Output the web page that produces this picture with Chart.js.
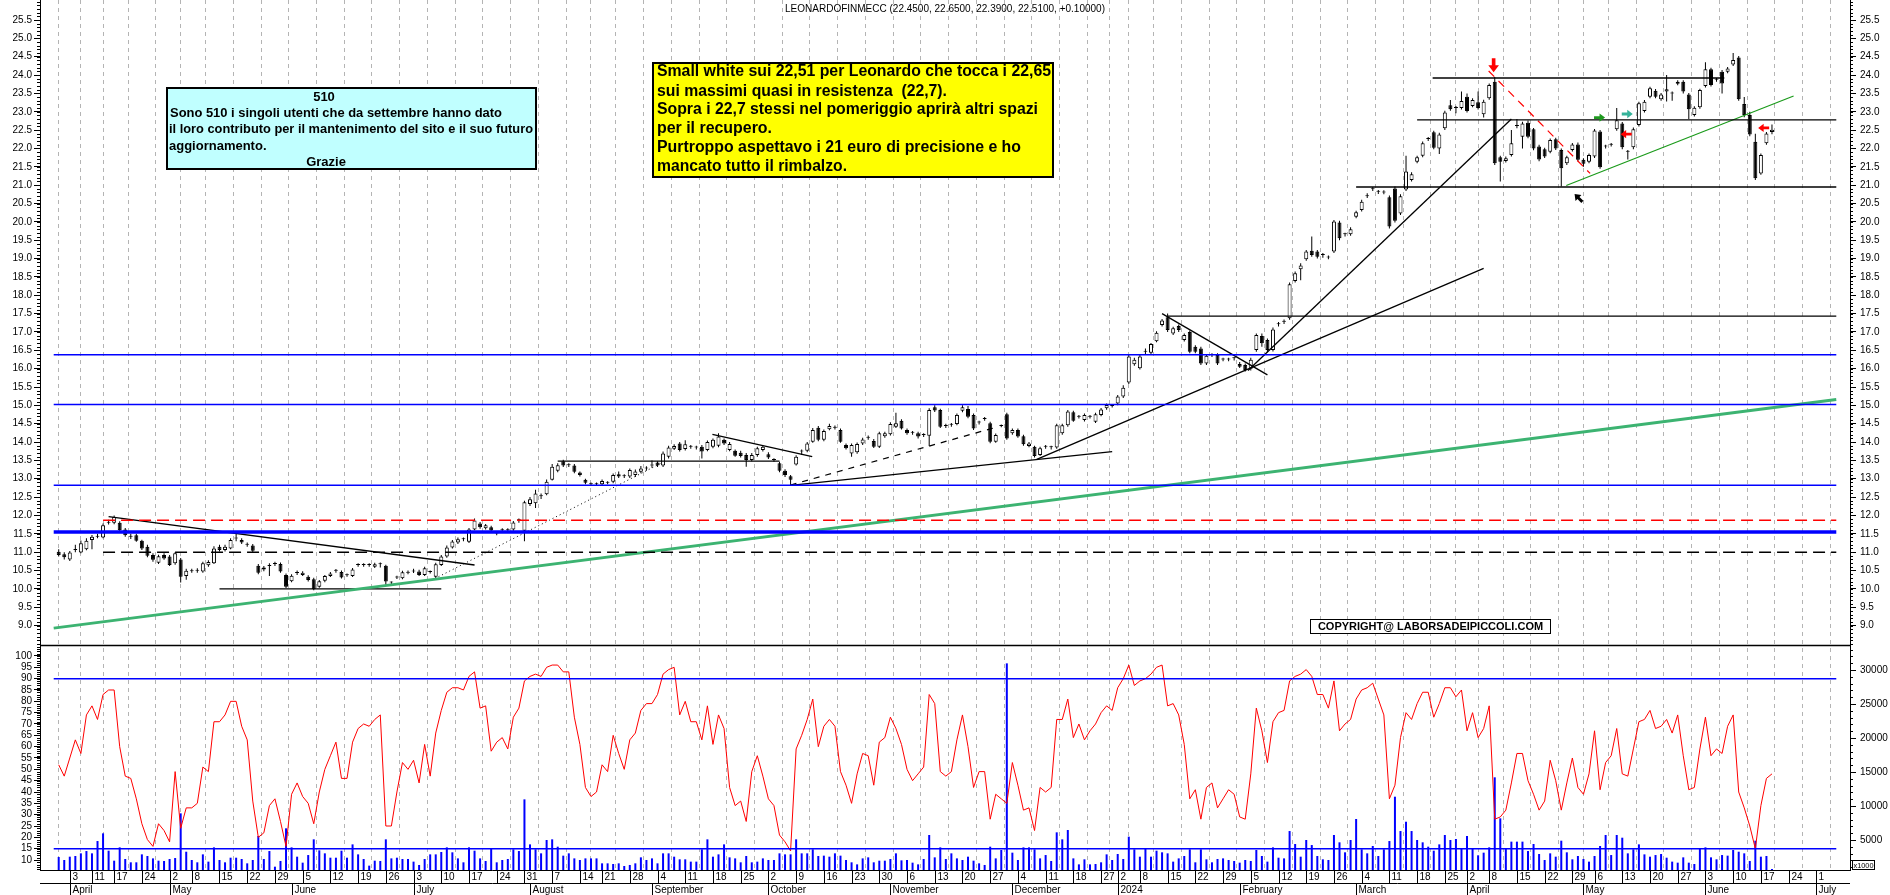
<!DOCTYPE html>
<html>
<head>
    <title>LEONARDOFINMECC</title>
    <script src="https://cdn.jsdelivr.net/npm/chart.js@4.4.1/dist/chart.umd.min.js"></script>
    <style>
        body { margin: 0; background: #ffffff; }
        canvas { display: block; }
    </style>
</head>
<body>
    <canvas id="myChart" width="1890" height="895"></canvas>
    <script>
        // ---- calendar: trading days of Borsa Italiana, 30 Mar 2023 .. early July 2024
        const holidays = ['2023-04-07', '2023-04-10', '2023-05-01', '2023-08-15', '2023-12-25',
            '2023-12-26', '2024-01-01', '2024-03-29', '2024-04-01', '2024-05-01'];
        const monthNames = ['January', 'February', 'March', 'April', 'May', 'June', 'July',
            'August', 'September', 'October', 'November', 'December'];
        const tradingDays = [];
        for (let d = new Date(Date.UTC(2023, 2, 30)); d <= new Date(Date.UTC(2024, 6, 5)); d.setUTCDate(d.getUTCDate() + 1)) {
            const s = d.toISOString().slice(0, 10);
            const wd = d.getUTCDay();
            if (wd === 0 || wd === 6 || holidays.includes(s)) continue;
            tradingDays.push(s);
        }

        // ---- daily candles (index 0 = 30 Mar 2023, last = 19 Jun 2024)
        const open = [
            11.01, 10.94, 10.80, 11.06, 10.99, 11.08, 11.33, 11.42, 11.40, 11.80,
            11.80, 11.80, 11.62, 11.43, 11.46, 11.31, 11.15, 10.92, 10.71, 10.92,
            10.88, 10.70, 10.80, 10.35, 10.48, 10.49, 10.47, 10.64, 10.70, 11.15,
            11.06, 11.10, 11.37, 11.33, 11.21, 11.18, 10.63, 10.53, 10.62, 10.68,
            10.68, 10.38, 10.21, 10.43, 10.38, 10.33, 10.26, 10.06, 10.22, 10.35,
            10.49, 10.46, 10.38, 10.35, 10.65, 10.65, 10.66, 10.60, 10.67, 10.63,
            10.17, 10.31, 10.29, 10.44, 10.47, 10.47, 10.38, 10.46, 10.33, 10.65,
            10.88, 11.13, 11.26, 11.35, 11.28, 11.62, 11.78, 11.65, 11.68, 11.51,
            11.60, 11.60, 11.62, 11.88, 11.58, 12.31, 12.33, 12.53, 12.58, 12.97,
            13.22, 13.48, 13.37, 13.36, 13.17, 12.97, 12.85, 12.85, 12.85, 12.89,
            12.92, 13.12, 13.07, 13.06, 13.10, 13.19, 13.28, 13.36, 13.44, 13.36,
            13.60, 13.82, 13.96, 13.81, 13.87, 13.86, 13.87, 13.78, 13.87, 13.90,
            14.06, 13.78, 13.76, 13.71, 13.65, 13.51, 13.65, 13.78, 13.67, 13.51,
            13.42, 13.22, 13.07, 13.39, 13.74, 13.76, 14.01, 14.39, 14.06, 14.35,
            14.39, 14.33, 13.92, 13.69, 13.72, 13.96, 14.12, 14.03, 13.87, 14.16,
            14.21, 14.42, 14.58, 14.33, 14.25, 14.24, 14.19, 14.17, 14.95, 14.87,
            14.44, 14.47, 14.49, 14.85, 14.90, 14.74, 14.53, 14.63, 14.51, 14.01,
            14.44, 14.76, 14.24, 14.33, 14.16, 13.89, 13.87, 13.65, 13.87, 13.86,
            13.85, 14.24, 14.46, 14.81, 14.69, 14.60, 14.69, 14.55, 14.74, 14.92,
            14.98, 15.05, 15.24, 15.62, 16.12, 16.01, 16.46, 16.43, 16.75, 17.19,
            17.40, 16.96, 17.16, 16.78, 17.00, 16.60, 16.55, 16.14, 16.37, 16.37,
            16.25, 16.25, 16.28, 16.13, 16.10, 16.00, 16.51, 16.89, 16.78, 16.51,
            17.21, 17.28, 17.37, 18.39, 18.71, 18.98, 19.21, 19.19, 19.10, 19.03,
            19.19, 19.98, 19.66, 19.66, 20.14, 20.32, 20.70, 20.89, 20.82, 20.80,
            20.67, 20.91, 20.23, 20.88, 21.14, 21.64, 21.80, 22.26, 22.44, 22.00,
            22.55, 23.18, 23.10, 23.10, 23.41, 23.16, 23.26, 22.93, 23.37, 23.82,
            21.76, 21.66, 21.82, 22.61, 22.32, 22.70, 22.52, 22.05, 21.98, 21.91,
            22.25, 21.96, 21.60, 21.96, 22.11, 21.69, 21.64, 21.78, 22.46, 22.05,
            22.10, 22.52, 22.68, 21.91, 22.03, 22.64, 23.02, 23.41, 23.57, 23.34,
            23.55, 23.50, 23.76, 23.82, 23.47, 22.91, 23.12, 23.70, 24.16, 23.87,
            24.09, 24.09, 24.29, 24.48, 23.21, 22.91, 22.18, 21.32, 22.14, 22.45
        ];
        const high = [
            11.08, 11.00, 11.03, 11.20, 11.32, 11.38, 11.47, 11.50, 11.78, 11.88,
            12.00, 11.84, 11.66, 11.50, 11.50, 11.34, 11.20, 10.97, 10.93, 10.97,
            10.92, 11.00, 10.84, 10.55, 10.55, 10.56, 10.74, 10.78, 11.16, 11.20,
            11.20, 11.38, 11.50, 11.38, 11.26, 11.22, 10.68, 10.62, 10.70, 10.74,
            10.72, 10.42, 10.40, 10.50, 10.48, 10.37, 10.30, 10.24, 10.38, 10.46,
            10.54, 10.50, 10.42, 10.57, 10.70, 10.70, 10.70, 10.71, 10.72, 10.66,
            10.20, 10.36, 10.49, 10.50, 10.55, 10.52, 10.60, 10.50, 10.71, 10.92,
            11.18, 11.33, 11.40, 11.40, 11.66, 11.92, 11.82, 11.77, 11.72, 11.56,
            11.65, 11.65, 11.85, 11.92, 12.40, 12.50, 12.70, 12.60, 12.98, 13.40,
            13.42, 13.52, 13.42, 13.40, 13.20, 13.00, 12.90, 12.90, 12.98, 12.93,
            13.14, 13.20, 13.12, 13.28, 13.25, 13.35, 13.34, 13.50, 13.48, 13.74,
            13.90, 13.94, 14.00, 14.05, 13.92, 13.90, 13.92, 14.04, 14.10, 14.24,
            14.10, 14.00, 13.80, 13.76, 13.70, 13.70, 13.87, 13.90, 13.72, 13.56,
            13.46, 13.26, 13.10, 13.64, 13.80, 14.00, 14.38, 14.44, 14.34, 14.50,
            14.45, 14.37, 13.96, 13.96, 13.99, 14.12, 14.18, 14.08, 14.28, 14.28,
            14.54, 14.80, 14.62, 14.37, 14.30, 14.28, 14.24, 14.92, 15.00, 14.91,
            14.50, 14.52, 14.78, 15.00, 14.98, 14.78, 14.58, 14.68, 14.55, 14.23,
            14.48, 14.80, 14.37, 14.37, 14.20, 14.00, 13.90, 13.87, 13.92, 13.90,
            14.50, 14.50, 14.87, 14.85, 14.74, 14.78, 14.74, 14.80, 14.93, 15.05,
            15.03, 15.28, 15.55, 16.40, 16.30, 16.37, 16.55, 16.70, 17.02, 17.35,
            17.50, 17.14, 17.20, 16.96, 17.04, 16.64, 16.60, 16.40, 16.42, 16.42,
            16.30, 16.30, 16.32, 16.18, 16.14, 16.30, 16.96, 16.96, 16.82, 17.12,
            17.27, 17.34, 18.35, 18.65, 18.87, 19.23, 19.60, 19.23, 19.15, 19.08,
            20.05, 20.03, 19.70, 19.85, 20.30, 20.60, 20.78, 20.95, 20.87, 20.86,
            20.72, 20.96, 20.75, 21.80, 21.35, 21.80, 22.19, 22.31, 22.48, 22.43,
            23.03, 23.32, 23.16, 23.55, 23.50, 23.37, 23.55, 23.33, 23.77, 23.95,
            21.80, 21.78, 22.50, 22.80, 22.73, 22.76, 22.56, 22.10, 22.02, 22.27,
            22.29, 22.00, 21.80, 22.15, 22.16, 21.73, 21.86, 22.53, 22.50, 22.10,
            22.15, 23.10, 22.72, 21.96, 22.57, 23.27, 23.32, 23.68, 23.62, 23.51,
            24.00, 23.55, 23.86, 23.86, 23.51, 23.15, 23.63, 24.35, 24.20, 23.92,
            24.14, 24.22, 24.60, 24.52, 23.40, 23.00, 22.40, 21.86, 22.45, 22.65
        ];
        const low = [
            10.88, 10.80, 10.76, 11.00, 10.97, 11.05, 11.08, 11.38, 11.38, 11.75,
            11.76, 11.55, 11.42, 11.36, 11.28, 11.06, 10.86, 10.74, 10.68, 10.79,
            10.62, 10.66, 10.17, 10.25, 10.44, 10.44, 10.44, 10.60, 10.68, 11.02,
            11.02, 11.08, 11.30, 11.22, 11.15, 11.00, 10.40, 10.48, 10.35, 10.62,
            10.44, 10.02, 10.18, 10.38, 10.35, 10.20, 9.96, 10.03, 10.18, 10.32,
            10.44, 10.28, 10.33, 10.32, 10.60, 10.60, 10.60, 10.57, 10.58, 10.10,
            10.12, 10.27, 10.26, 10.40, 10.43, 10.35, 10.35, 10.42, 10.28, 10.62,
            10.85, 11.10, 11.22, 11.30, 11.25, 11.60, 11.64, 11.62, 11.55, 11.46,
            11.55, 11.55, 11.58, 11.80, 11.30, 12.26, 12.20, 12.45, 12.55, 12.95,
            13.18, 13.32, 13.32, 13.15, 13.06, 12.85, 12.80, 12.80, 12.82, 12.85,
            12.88, 13.02, 13.02, 13.02, 13.05, 13.15, 13.22, 13.30, 13.32, 13.32,
            13.55, 13.78, 13.74, 13.77, 13.82, 13.80, 13.55, 13.75, 13.83, 13.86,
            13.92, 13.75, 13.60, 13.58, 13.33, 13.48, 13.60, 13.74, 13.54, 13.46,
            13.18, 13.05, 12.82, 13.36, 13.65, 13.72, 13.98, 14.02, 14.02, 14.32,
            14.34, 13.98, 13.80, 13.60, 13.68, 13.92, 14.06, 13.84, 13.84, 14.12,
            14.18, 14.38, 14.34, 14.20, 14.20, 14.10, 14.14, 13.89, 14.82, 14.38,
            14.38, 14.42, 14.46, 14.81, 14.65, 14.33, 14.48, 14.58, 13.97, 13.98,
            14.40, 14.06, 14.20, 14.12, 13.90, 13.86, 13.58, 13.62, 13.82, 13.80,
            13.82, 14.20, 14.42, 14.55, 14.64, 14.56, 14.64, 14.52, 14.70, 14.88,
            14.94, 15.00, 15.20, 15.58, 16.08, 15.98, 16.40, 16.40, 16.72, 17.15,
            17.00, 16.92, 17.00, 16.74, 16.42, 16.42, 16.10, 16.10, 16.32, 16.10,
            16.20, 16.20, 16.22, 16.02, 15.92, 15.95, 16.46, 16.60, 16.45, 16.47,
            17.15, 17.22, 17.33, 18.35, 18.41, 18.94, 19.05, 19.00, 19.02, 18.98,
            19.15, 19.50, 19.60, 19.62, 20.10, 20.28, 20.65, 20.84, 20.76, 20.75,
            19.82, 19.98, 20.19, 20.84, 21.10, 21.60, 21.76, 22.20, 21.98, 21.85,
            22.50, 23.03, 22.96, 23.06, 22.98, 23.12, 23.06, 22.84, 23.33, 21.55,
            21.10, 21.62, 21.78, 22.55, 22.00, 22.28, 21.95, 21.65, 21.74, 21.87,
            21.96, 20.96, 21.55, 21.92, 21.65, 21.50, 21.60, 21.74, 21.45, 22.00,
            22.05, 22.48, 21.98, 21.70, 21.98, 22.60, 22.98, 23.37, 23.37, 23.30,
            23.28, 23.30, 23.72, 23.50, 22.80, 22.87, 23.08, 23.66, 23.69, 23.82,
            23.50, 24.05, 24.25, 23.30, 22.85, 22.33, 21.14, 21.28, 22.10, 22.39
        ];
        const close = [
            10.92, 10.86, 10.99, 11.08, 11.24, 11.31, 11.42, 11.45, 11.73, 11.82,
            11.96, 11.60, 11.46, 11.42, 11.31, 11.10, 10.90, 10.79, 10.89, 10.83,
            10.65, 10.97, 10.33, 10.49, 10.50, 10.50, 10.70, 10.73, 11.10, 11.06,
            11.15, 11.33, 11.38, 11.26, 11.20, 11.04, 10.44, 10.58, 10.63, 10.69,
            10.47, 10.06, 10.36, 10.44, 10.44, 10.24, 9.99, 10.21, 10.35, 10.42,
            10.50, 10.31, 10.37, 10.53, 10.66, 10.66, 10.65, 10.67, 10.68, 10.20,
            10.17, 10.32, 10.45, 10.45, 10.47, 10.38, 10.56, 10.46, 10.67, 10.88,
            11.13, 11.29, 11.35, 11.35, 11.62, 11.86, 11.68, 11.73, 11.59, 11.51,
            11.60, 11.61, 11.81, 11.87, 12.36, 12.44, 12.60, 12.52, 12.92, 13.33,
            13.37, 13.36, 13.37, 13.19, 13.10, 12.89, 12.85, 12.85, 12.94, 12.89,
            13.10, 13.06, 13.07, 13.24, 13.20, 13.28, 13.29, 13.36, 13.36, 13.69,
            13.85, 13.89, 13.78, 13.94, 13.87, 13.85, 13.74, 14.00, 14.06, 14.15,
            13.96, 13.95, 13.63, 13.62, 13.51, 13.65, 13.83, 13.87, 13.58, 13.51,
            13.22, 13.10, 12.97, 13.60, 13.74, 13.96, 14.33, 14.06, 14.30, 14.44,
            14.39, 14.01, 13.83, 13.92, 13.95, 14.07, 14.12, 13.87, 14.24, 14.24,
            14.49, 14.51, 14.37, 14.24, 14.25, 14.15, 14.19, 14.87, 14.86, 14.42,
            14.44, 14.47, 14.74, 14.95, 14.69, 14.37, 14.53, 14.63, 14.01, 14.19,
            14.44, 14.10, 14.33, 14.15, 13.94, 13.96, 13.62, 13.83, 13.87, 13.86,
            14.46, 14.46, 14.83, 14.58, 14.69, 14.74, 14.69, 14.76, 14.89, 15.01,
            14.98, 15.24, 15.48, 16.33, 16.24, 16.33, 16.46, 16.67, 16.98, 17.31,
            17.05, 17.10, 17.05, 16.92, 16.46, 16.46, 16.14, 16.35, 16.37, 16.14,
            16.25, 16.25, 16.28, 16.05, 15.96, 16.24, 16.92, 16.69, 16.51, 17.07,
            17.21, 17.28, 18.30, 18.60, 18.81, 19.19, 19.10, 19.05, 19.10, 19.03,
            20.01, 19.55, 19.66, 19.80, 20.26, 20.55, 20.70, 20.89, 20.82, 20.80,
            19.87, 20.03, 20.70, 21.37, 21.30, 21.76, 22.14, 22.26, 22.02, 22.38,
            22.98, 23.07, 23.10, 23.29, 23.02, 23.32, 23.10, 23.27, 23.73, 21.60,
            21.64, 21.73, 22.14, 22.61, 22.68, 22.32, 22.00, 21.70, 21.78, 22.23,
            22.00, 21.46, 21.76, 22.11, 21.69, 21.58, 21.82, 22.49, 21.49, 22.05,
            22.10, 22.77, 22.03, 21.91, 22.52, 23.23, 23.27, 23.64, 23.41, 23.47,
            23.61, 23.50, 23.82, 23.55, 23.07, 23.11, 23.59, 24.16, 23.73, 23.87,
            23.77, 24.18, 24.41, 23.34, 22.91, 22.38, 21.19, 21.82, 22.41, 22.51
        ];

        // ---- oscillator (left lower scale) and volume in thousands (right lower scale)
        const stoch = [
            52, 47, 55, 63, 57, 74, 78, 72, 83, 85,
            85, 60, 47, 46, 37, 26, 19, 16, 26, 23,
            18, 49, 24, 33, 33, 35, 51, 49, 71, 71,
            74, 80, 80, 69, 63, 36, 20, 22, 34, 37,
            27, 16, 39, 44, 38, 35, 26, 40, 50, 56,
            62, 46, 46, 62, 68, 70, 69, 72, 74, 25,
            25, 40, 53, 50, 54, 44, 61, 47, 66, 76,
            84, 86, 86, 85, 91, 93, 77, 78, 58, 62,
            64, 59, 73, 77, 89, 91, 92, 91, 95, 96,
            96, 93, 93, 73, 61, 42, 38, 40, 52, 49,
            65, 57, 50, 63, 66, 76, 79, 79, 83, 92,
            94, 95, 74, 80, 71, 71, 63, 78, 61, 74,
            68, 42, 34, 36, 27, 49, 56, 47, 37, 34,
            21, 18, 14, 59, 65, 72, 81, 60, 69, 72,
            69, 49, 43, 35, 48, 57, 56, 43, 62, 64,
            73, 68, 61, 50, 45, 48, 51, 83, 79, 49,
            47, 49, 63, 74, 60, 42, 49, 49, 28, 39,
            37, 35, 53, 43, 32, 33, 23, 42, 40, 42,
            72, 72, 81, 64, 70, 63, 67, 70, 75, 78,
            76, 86, 90, 96, 87, 89, 90, 92, 95, 96,
            78, 79, 74, 61, 37, 41, 28, 42, 44, 33,
            37, 41, 39, 29, 28, 48, 77, 67, 53, 71,
            75, 76, 89, 91, 92, 94, 91, 83, 83, 77,
            89, 67, 70, 72, 81, 85, 86, 88, 81, 74,
            37, 43, 64, 75, 72, 79, 84, 84, 73, 79,
            86, 86, 82, 85, 67, 75, 64, 68, 78, 28,
            29, 32, 44, 57, 57, 45, 39, 32, 36, 54,
            45, 32, 44, 55, 42, 39, 48, 67, 41, 53,
            56, 68, 48, 47, 59, 71, 72, 76, 68, 69,
            72, 66, 74, 56, 41, 42, 59, 73, 56, 59,
            57, 69, 74, 40, 33, 25, 15, 34, 46, 48
        ];
        const volume = [
            2500, 2060, 2550, 2650, 3040, 3380, 3040, 4850, 5980, 3430,
            1960, 3920, 2210, 1720, 1720, 2890, 2650, 2300, 1960, 1910,
            2210, 2350, 8920, 3280, 2060, 1720, 2890, 1820, 3920, 2060,
            1720, 2400, 2400, 2210, 1570, 2060, 5590, 2210, 3380, 1080,
            1910, 6720, 3920, 2550, 1670, 2790, 5100, 3480, 3040, 2400,
            2400, 3430, 2400, 4360, 2890, 2210, 1230, 1960, 1910, 5100,
            2300, 2400, 2210, 2210, 1820, 1330, 2210, 2890, 2890, 3240,
            3920, 3190, 2300, 1720, 3920, 3430, 2300, 1910, 3680, 1720,
            2060, 2210, 3630, 3380, 10980, 4360, 3630, 3040, 5000, 5100,
            4020, 2700, 3040, 2300, 2060, 2300, 2300, 2300, 1570, 1570,
            1470, 1570, 1180, 1330, 1570, 2450, 2060, 2300, 1570, 3040,
            3040, 2550, 2160, 2160, 1820, 1820, 3630, 5100, 2550, 2890,
            4360, 2450, 2300, 1720, 2650, 1720, 1820, 2300, 2060, 2060,
            3040, 2890, 2890, 5100, 3040, 3040, 3630, 2650, 2700, 2550,
            3040, 2700, 2060, 1720, 1420, 2300, 2450, 1720, 1960, 1960,
            2210, 3040, 2010, 2060, 1670, 1420, 2210, 5740, 2450, 3920,
            2210, 3040, 2300, 2060, 2550, 1960, 1570, 1330, 4020, 2300,
            3530, 30980, 3140, 2060, 3920, 3920, 3630, 2300, 2790, 1910,
            6130, 5100, 6470, 2300, 1420, 2160, 1420, 1470, 1720, 2890,
            2060, 2940, 2210, 5490, 3630, 2550, 3680, 2550, 3430, 3190,
            3040, 1820, 2300, 2650, 3630, 1720, 3630, 2160, 1720, 2210,
            2300, 2060, 1910, 1670, 2060, 1910, 3530, 2650, 1820, 3920,
            2400, 2300, 6320, 4410, 2550, 5000, 4260, 2650, 2160, 2060,
            5740, 4660, 3190, 5000, 8090, 3630, 3040, 4120, 2650, 3630,
            4850, 11370, 6320, 7690, 6320, 5000, 4660, 4020, 3430, 4360,
            5740, 5000, 5150, 3680, 5590, 3680, 2750, 3140, 3920, 14220,
            8190, 3680, 4760, 4760, 4760, 3380, 4410, 2940, 2060, 3040,
            2550, 4900, 3190, 2160, 2650, 2210, 1820, 2650, 4120, 5740,
            2790, 5740, 5340, 3040, 3630, 4360, 2890, 2550, 2790, 2940,
            2400, 1820, 1670, 2450, 1670, 1470, 3680, 3920, 2450, 2160,
            2790, 2700, 3530, 3280, 3040, 1910, 4900, 2550, 2650, 740
        ];

        // ---- tick labels
        const priceTicks = Array.from({ length: 34 }, (_, k) => 9 + k * 0.5);
        const stochTicks = Array.from({ length: 19 }, (_, k) => 10 + k * 5);
        const volumeTicks = [5000, 10000, 15000, 20000, 25000, 30000];

        // ---- drawn studies, in (trading day index, price)
        const X_MIN = -0.9, X_MAX = 320.6;
        const blueLevels = [16.38, 15.02, 12.82];
        const blueThickLevel = 11.55;
        const redDashLevel = 11.87;
        const blackDashLevel = 11.0;
        const stochLevels = [90, 15];
        const longGreenLine = [X_MIN, 8.93, X_MAX, 15.16];
        const blackLines = [
            [9, 11.97, 75, 10.65],
            [29, 10.0, 69, 10.0],
            [90, 13.48, 130, 13.48],
            [117.9, 14.21, 135.9, 13.6],
            [132, 12.82, 190, 13.74],
            [176.4, 13.53, 257, 18.73],
            [199, 17.5, 218, 15.83],
            [214.5, 15.95, 262, 22.8],
            [200, 17.43, X_MAX, 17.43],
            [234, 20.95, X_MAX, 20.95],
            [245, 22.78, X_MAX, 22.78],
            [247.8, 23.92, 300.4, 23.92]
        ];
        const dottedLine = [68.5, 10.33, 109, 13.45];
        const dashedLine = [132, 12.83, 169, 14.4];
        const redTrendLine = [257.9, 24.11, 276.2, 21.32];
        const greenTrendLine = [271.9, 20.99, 312.9, 23.43];
        // arrows: [day, price, direction, colour]
        const arrows = [
            [258.8, 24.27, 'down', '#ff0000'],
            [277.9, 22.84, 'right', '#1f9a1f'],
            [282.9, 22.94, 'right', '#35b39a'],
            [282.7, 22.39, 'left', '#ff0000'],
            [307.5, 22.56, 'left', '#ff0000'],
            [274.1, 20.65, 'nw', '#000000']
        ];

        const FONT = 'Liberation Sans, Arial, sans-serif';
        const seg = (a) => [{ x: a[0], y: a[1] }, { x: a[2], y: a[3] }];
        const level = (v, from) => seg([from === undefined ? X_MIN : from, v, X_MAX, v]);

        function lineSet(data, color, width, dash, axis) {
            return {
                type: 'line', data: data, yAxisID: axis || 'yP', borderColor: color,
                borderWidth: width, borderDash: dash || [], pointRadius: 0, order: 1
            };
        }

        const datasets = [];
        blueLevels.forEach(v => datasets.push(lineSet(level(v), '#0000ff', 1.5)));
        datasets.push(lineSet(level(blueThickLevel), '#0000ff', 3.5));
        datasets.push(lineSet(level(redDashLevel, 8), '#ff0000', 1.5, [12, 6]));
        datasets.push(lineSet(level(blackDashLevel, 8), '#000000', 1.5, [12, 6]));
        datasets.push(lineSet(seg(longGreenLine), '#3cb371', 3));
        blackLines.forEach(l => datasets.push(lineSet(seg(l), '#000000', 1.3)));
        datasets.push(lineSet(seg(dottedLine), '#000000', 1, [1, 3]));
        datasets.push(lineSet(seg(dashedLine), '#000000', 1.2, [6, 6]));
        datasets.push(lineSet(seg(redTrendLine), '#ff0000', 1.2, [8, 6]));
        datasets.push(lineSet(seg(greenTrendLine), '#1a9a1a', 1.2));
        stochLevels.forEach(v => datasets.push(lineSet(level(v), '#0000ff', 1.5, [], 'yS')));

        datasets.push({
            type: 'bar', yAxisID: 'yP', order: 3, grouped: false, maxBarThickness: 1,
            data: low.map((l, j) => ({ x: j, y: [l, high[j]] })),
            backgroundColor: '#000000'
        });
        datasets.push({
            type: 'bar', yAxisID: 'yP', order: 2, grouped: false, maxBarThickness: 5,
            minBarLength: 1, borderSkipped: false, borderWidth: 1, borderColor: '#000000',
            data: open.map((o, j) => ({ x: j, y: [o, close[j]] })),
            backgroundColor: (c) => close[c.dataIndex] >= open[c.dataIndex] ? '#ffffff' : '#000000'
        });
        datasets.push({
            type: 'bar', yAxisID: 'yV', order: 3, grouped: false, maxBarThickness: 2,
            data: volume.map((v, j) => ({ x: j, y: v })),
            backgroundColor: '#0000ff'
        });
        datasets.push({
            type: 'line', yAxisID: 'yS', order: 2, borderColor: '#ff0000', borderWidth: 1,
            pointRadius: 0, data: stoch.map((v, j) => ({ x: j, y: v }))
        });

        // week starts and month starts for the time axis
        const weekStarts = [], monthStarts = [];
        tradingDays.forEach((s, j) => {
            if (j === 0) return;
            const d = new Date(s + 'T00:00:00Z'), p = new Date(tradingDays[j - 1] + 'T00:00:00Z');
            if (d.getUTCDay() < p.getUTCDay() || (d - p) > 6 * 86400000) weekStarts.push(j);
            if (d.getUTCMonth() !== p.getUTCMonth()) monthStarts.push(j);
        });

        const fitW = (w) => (s) => { s.width = w; s.paddingTop = 0; s.paddingBottom = 0; };
        const setTicks = (arr) => (s) => { s.ticks = arr.map(v => ({ value: v })); };
        const tickFont = { family: FONT, size: 10 };
        function yAxis(pos, stack, weight, min, max, ticks, fmt) {
            return {
                type: 'linear', position: pos, stack: stack, stackWeight: weight, min: min, max: max,
                afterBuildTicks: setTicks(ticks), afterFit: fitW(40),
                grid: { display: true, drawOnChartArea: false, drawTicks: true, tickLength: 6, color: '#000000' },
                border: { display: true, color: '#000000', width: 1 },
                ticks: {
                    font: tickFont, color: '#000000', padding: pos === 'left' ? 2 : 4,
                    autoSkip: false, callback: fmt
                }
            };
        }
        const fmtPrice = (v) => Number(v).toFixed(1);
        const fmtInt = (v) => String(v);

        function blockArrow(ctx, cx, cy, dir, len, color) {
            const v = { down: [0, 1], right: [1, 0], left: [-1, 0], nw: [-0.7071, -0.7071] }[dir];
            const dx = v[0], dy = v[1], px = -dy, py = dx;
            const tipX = cx + dx * len / 2, tipY = cy + dy * len / 2;
            const head = len * 0.5, hw = len * 0.38, sw = len * 0.13;
            const bx = tipX - dx * head, by = tipY - dy * head;
            const tx = tipX - dx * len, ty = tipY - dy * len;
            ctx.beginPath();
            ctx.moveTo(tipX, tipY);
            ctx.lineTo(bx + px * hw, by + py * hw);
            ctx.lineTo(bx + px * sw, by + py * sw);
            ctx.lineTo(tx + px * sw, ty + py * sw);
            ctx.lineTo(tx - px * sw, ty - py * sw);
            ctx.lineTo(bx - px * sw, by - py * sw);
            ctx.lineTo(bx - px * hw, by - py * hw);
            ctx.closePath();
            ctx.fillStyle = color;
            ctx.fill();
        }

        function textBox(ctx, x, y, w, h, fill, bw) {
            ctx.fillStyle = fill;
            ctx.fillRect(x, y, w, h);
            ctx.lineWidth = bw;
            ctx.strokeStyle = '#000000';
            ctx.strokeRect(x, y, w, h);
        }

        const decorations = {
            id: 'decorations',
            beforeDraw(chart) {
                const ctx = chart.ctx;
                ctx.save();
                ctx.fillStyle = '#ffffff';
                ctx.fillRect(0, 0, chart.width, chart.height);
                ctx.restore();
            },
            afterDraw(chart) {
                const { ctx, chartArea: a, scales } = chart;
                const x = scales.x, yP = scales.yP, yS = scales.yS, yP2 = scales.yP2, yV = scales.yV;
                ctx.save();

                // panel separator
                ctx.strokeStyle = '#000000';
                ctx.lineWidth = 1.5;
                ctx.beginPath();
                ctx.moveTo(a.left, Math.round(yS.top) + 0.5);
                ctx.lineTo(a.right, Math.round(yS.top) + 0.5);
                ctx.stroke();

                // minor ticks on the value axes
                ctx.lineWidth = 1;
                ctx.beginPath();
                const minor = (scale, from, to, step, left) => {
                    for (let v = from; v <= to + 1e-9; v += step) {
                        const yy = Math.round(scale.getPixelForValue(v)) + 0.5;
                        if (yy < scale.top || yy > scale.bottom) continue;
                        const x0 = left ? a.left : a.right;
                        ctx.moveTo(x0, yy);
                        ctx.lineTo(left ? x0 - 3 : x0 + 3, yy);
                    }
                };
                minor(yP, 8.5, 26, 0.1, true);
                minor(yP2, 8.5, 26, 0.1, false);
                minor(yS, 6, 104, 1, true);
                minor(yV, 1000, 33000, 1000, false);
                ctx.stroke();

                // time axis: week row and month row
                const rowMid = a.bottom + 13;
                ctx.beginPath();
                ctx.moveTo(a.left, rowMid + 0.5);
                ctx.lineTo(a.right, rowMid + 0.5);
                ctx.font = '10px ' + FONT;
                ctx.fillStyle = '#000000';
                ctx.textAlign = 'left';
                ctx.textBaseline = 'middle';
                weekStarts.forEach(j => {
                    const px = Math.round(x.getPixelForValue(j)) + 0.5;
                    if (px < a.left || px > a.right) return;
                    ctx.moveTo(px, a.bottom);
                    ctx.lineTo(px, rowMid);
                    ctx.fillText(String(Number(tradingDays[j].slice(8, 10))), px + 2, a.bottom + 7);
                });
                monthStarts.forEach(j => {
                    const px = Math.round(x.getPixelForValue(j)) + 0.5;
                    if (px < a.left || px > a.right) return;
                    ctx.moveTo(px, rowMid);
                    ctx.lineTo(px, chart.height);
                    const m = Number(tradingDays[j].slice(5, 7)) - 1;
                    const label = m === 0 ? tradingDays[j].slice(0, 4) : monthNames[m];
                    ctx.fillText(label, px + 2, rowMid + 7);
                });
                ctx.stroke();

                // volume unit marker
                textBox(ctx, 1852.5, 860.5, 22, 9, '#ffffff', 1);
                ctx.font = '8px ' + FONT;
                ctx.textAlign = 'center';
                ctx.fillStyle = '#000000';
                ctx.fillText('x1000', 1863.5, 865.5, 20);

                // arrows
                arrows.forEach(r => {
                    blockArrow(ctx, x.getPixelForValue(r[0]), yP.getPixelForValue(r[1]), r[2],
                        r[2] === 'down' ? 14 : 11, r[3]);
                });

                // title
                ctx.font = '10px ' + FONT;
                ctx.textAlign = 'center';
                ctx.fillText('LEONARDOFINMECC (22.4500, 22.6500, 22.3900, 22.5100, +0.10000)', 945, 9);

                // cyan note
                textBox(ctx, 167, 88, 369, 81, '#c0ffff', 2);
                ctx.fillStyle = '#000000';
                ctx.font = 'bold 13px ' + FONT;
                ctx.textAlign = 'center';
                ctx.fillText('510', 324, 97);
                ctx.fillText('Grazie', 326, 162);
                ctx.textAlign = 'left';
                ctx.fillText('Sono 510 i singoli utenti che da settembre hanno dato', 170, 113, 332);
                ctx.fillText('il loro contributo per il mantenimento del sito e il suo futuro', 169, 129, 364);
                ctx.fillText('aggiornamento.', 169, 146, 99);

                // yellow note
                textBox(ctx, 653, 63, 400, 114, '#ffff00', 2);
                ctx.fillStyle = '#000000';
                ctx.font = 'bold 16px ' + FONT;
                const yl = [
                    ['Small white sui 22,51 per Leonardo che tocca i 22,65', 72, 394],
                    ['sui massimi quasi in resistenza  (22,7).', 92, 290],
                    ['Sopra i 22,7 stessi nel pomeriggio aprirà altri spazi', 110, 381],
                    ['per il recupero.', 129, 115],
                    ['Purtroppo aspettavo i 21 euro di precisione e ho', 148, 364],
                    ['mancato tutto il rimbalzo.', 167, 190]
                ];
                yl.forEach(l => ctx.fillText(l[0], 657, l[1], l[2]));

                // copyright
                textBox(ctx, 1310.5, 619.5, 240, 14, '#ffffff', 1);
                ctx.fillStyle = '#000000';
                ctx.font = 'bold 11px ' + FONT;
                ctx.textAlign = 'center';
                ctx.fillText('COPYRIGHT@ LABORSADEIPICCOLI.COM', 1430.5, 627, 234);

                ctx.restore();
            }
        };

        const ctx = document.getElementById('myChart');
        const myChart = new Chart(ctx, {
            type: 'bar',
            data: { datasets: datasets },
            options: {
                responsive: false,
                animation: false,
                devicePixelRatio: 1,
                events: [],
                layout: { padding: 0 },
                plugins: { legend: { display: false }, tooltip: { enabled: false } },
                scales: {
                    x: {
                        type: 'linear', position: 'bottom', min: X_MIN, max: X_MAX,
                        afterBuildTicks: setTicks(weekStarts),
                        afterFit: (s) => { s.height = 25; s.paddingLeft = 0; s.paddingRight = 0; },
                        ticks: { display: false },
                        grid: { display: true, drawTicks: false, color: '#b4b4b4', lineWidth: 1 },
                        border: { display: true, color: '#000000', dash: [4, 4] }
                    },
                    // stacked layout order differs by side: left stack is filled bottom-up,
                    // right stack top-down
                    yS: yAxis('left', 'L', 225, 5.59, 104.85, stochTicks, fmtInt),
                    yP: yAxis('left', 'L', 645, 8.47, 26.045, priceTicks, fmtPrice),
                    yP2: yAxis('right', 'R', 645, 8.47, 26.045, priceTicks, fmtPrice),
                    yV: yAxis('right', 'R', 225, 590, 33680, volumeTicks, fmtInt)
                }
            },
            plugins: [decorations]
        });
    </script>
</body>
</html>
